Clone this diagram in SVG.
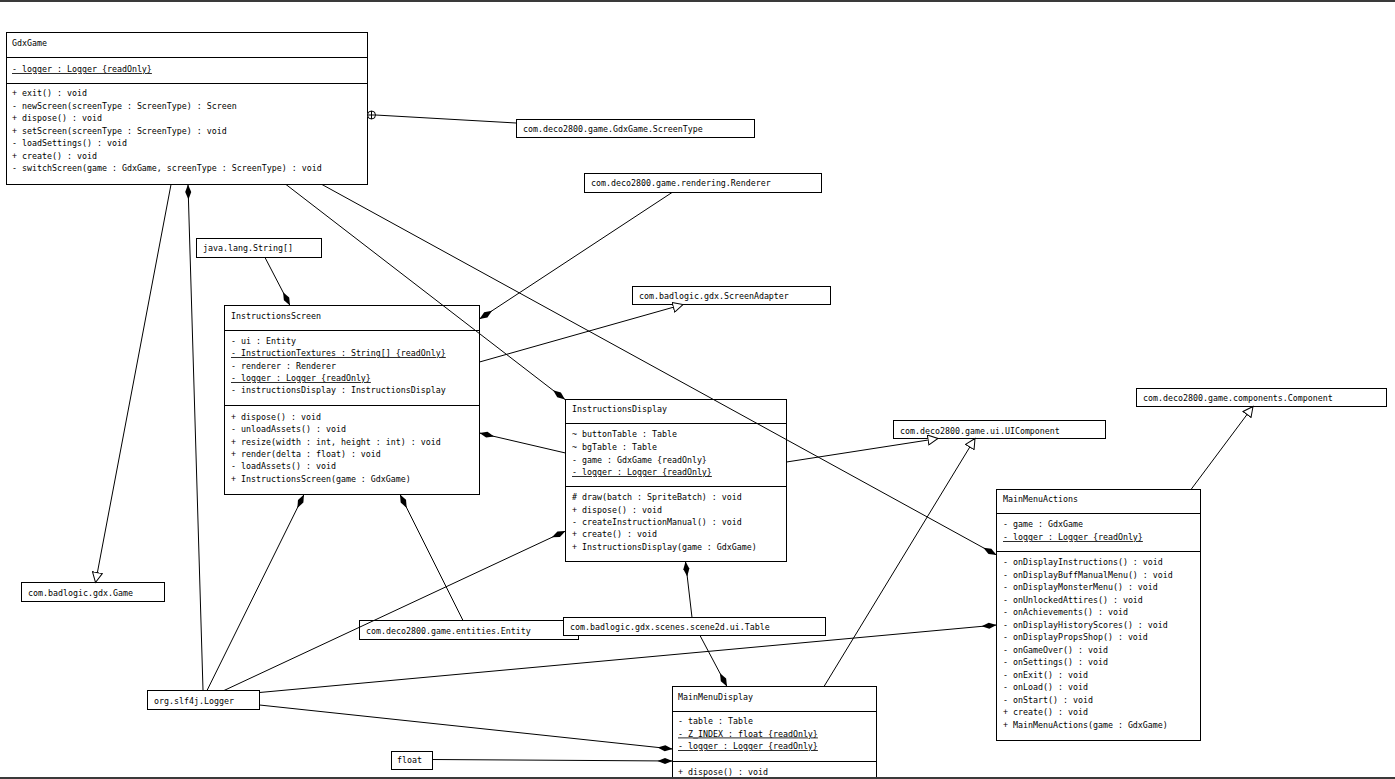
<svg xmlns="http://www.w3.org/2000/svg" width="1395" height="779" viewBox="0 0 1395 779">
<style>
text{font-family:"DejaVu Sans Mono","Liberation Mono",monospace;font-size:8.3px;fill:#000}
.box{fill:#fff;stroke:#000;stroke-width:1}
.sep{stroke:#000;stroke-width:1}
.u{text-decoration:underline}
.c{stroke:#000;stroke-width:1;fill:none}
.d{marker-end:url(#dia)}
.t{marker-end:url(#tri)}
</style>
<defs>
<marker id="dia" markerUnits="userSpaceOnUse" viewBox="0 0 16 8" markerWidth="16" markerHeight="8" refX="15" refY="4" orient="auto"><path d="M0,4 L7.5,1 L15,4 L7.5,7 Z" fill="#000"/></marker>
<marker id="tri" markerUnits="userSpaceOnUse" viewBox="0 0 12 11" markerWidth="12" markerHeight="11" refX="10.5" refY="5.5" orient="auto"><path d="M0.5,0.5 L10.5,5.5 L0.5,10.5 Z" fill="#fff" stroke="#000"/></marker>
</defs>
<rect x="0" y="0" width="1395" height="779" fill="#fff"/>
<rect x="0" y="0" width="1395" height="2" fill="#3a3a3a"/>

<g id="GdxGame">
<rect class="box" x="6.5" y="32.5" width="361" height="152"/>
<line class="sep" x1="6.5" y1="57.5" x2="367.5" y2="57.5"/>
<line class="sep" x1="6.5" y1="83.5" x2="367.5" y2="83.5"/>
<text x="12" y="46">GdxGame</text>
<text x="12" y="72" class="u">- logger : Logger {readOnly}</text>
<text x="12" y="96">+ exit() : void</text>
<text x="12" y="109">- newScreen(screenType : ScreenType) : Screen</text>
<text x="12" y="121">+ dispose() : void</text>
<text x="12" y="134">+ setScreen(screenType : ScreenType) : void</text>
<text x="12" y="146">- loadSettings() : void</text>
<text x="12" y="159">+ create() : void</text>
<text x="12" y="171">- switchScreen(game : GdxGame, screenType : ScreenType) : void</text>
</g>

<g id="ScreenType">
<rect class="box" x="516.5" y="119.5" width="238" height="18"/>
<text x="523" y="132">com.deco2800.game.GdxGame.ScreenType</text>
</g>

<g id="Renderer">
<rect class="box" x="584.5" y="173.5" width="237" height="19"/>
<text x="591" y="186">com.deco2800.game.rendering.Renderer</text>
</g>

<g id="StringArray">
<rect class="box" x="196.5" y="238.5" width="125" height="19"/>
<text x="203" y="251">java.lang.String[]</text>
</g>

<g id="ScreenAdapter">
<rect class="box" x="632.5" y="286.5" width="198" height="18"/>
<text x="639" y="299">com.badlogic.gdx.ScreenAdapter</text>
</g>

<g id="InstructionsScreen">
<rect class="box" x="224.5" y="305.5" width="255" height="189"/>
<line class="sep" x1="224.5" y1="330.5" x2="479.5" y2="330.5"/>
<line class="sep" x1="224.5" y1="405.5" x2="479.5" y2="405.5"/>
<text x="231" y="319">InstructionsScreen</text>
<text x="231" y="344">- ui : Entity</text>
<text x="231" y="356" class="u">- InstructionTextures : String[] {readOnly}</text>
<text x="231" y="368.5">- renderer : Renderer</text>
<text x="231" y="381" class="u">- logger : Logger {readOnly}</text>
<text x="231" y="393">- instructionsDisplay : InstructionsDisplay</text>
<text x="231" y="420">+ dispose() : void</text>
<text x="231" y="432">- unloadAssets() : void</text>
<text x="231" y="444.5">+ resize(width : int, height : int) : void</text>
<text x="231" y="457">+ render(delta : float) : void</text>
<text x="231" y="469">- loadAssets() : void</text>
<text x="231" y="481.5">+ InstructionsScreen(game : GdxGame)</text>
</g>

<g id="InstructionsDisplay">
<rect class="box" x="565.5" y="399.5" width="221" height="162"/>
<line class="sep" x1="565.5" y1="423.5" x2="786.5" y2="423.5"/>
<line class="sep" x1="565.5" y1="486.5" x2="786.5" y2="486.5"/>
<text x="572" y="412">InstructionsDisplay</text>
<text x="572" y="437">~ buttonTable : Table</text>
<text x="572" y="450">~ bgTable : Table</text>
<text x="572" y="462.5">- game : GdxGame {readOnly}</text>
<text x="572" y="475" class="u">- logger : Logger {readOnly}</text>
<text x="572" y="500"># draw(batch : SpriteBatch) : void</text>
<text x="572" y="512.5">+ dispose() : void</text>
<text x="572" y="525">- createInstructionManual() : void</text>
<text x="572" y="537">+ create() : void</text>
<text x="572" y="550">+ InstructionsDisplay(game : GdxGame)</text>
</g>

<g id="UIComponent">
<rect class="box" x="893.5" y="420.5" width="212" height="18"/>
<text x="900" y="434">com.deco2800.game.ui.UIComponent</text>
</g>

<g id="Component">
<rect class="box" x="1136.5" y="388.5" width="250" height="18"/>
<text x="1143" y="401">com.deco2800.game.components.Component</text>
</g>

<g id="MainMenuActions">
<rect class="box" x="996.5" y="489.5" width="204" height="251"/>
<line class="sep" x1="996.5" y1="513.5" x2="1200.5" y2="513.5"/>
<line class="sep" x1="996.5" y1="551.5" x2="1200.5" y2="551.5"/>
<text x="1003" y="502">MainMenuActions</text>
<text x="1003" y="527">- game : GdxGame</text>
<text x="1003" y="540" class="u">- logger : Logger {readOnly}</text>
<text x="1003" y="565">- onDisplayInstructions() : void</text>
<text x="1003" y="577.5">- onDisplayBuffManualMenu() : void</text>
<text x="1003" y="590">- onDisplayMonsterMenu() : void</text>
<text x="1003" y="602.5">- onUnlockedAttires() : void</text>
<text x="1003" y="615">- onAchievements() : void</text>
<text x="1003" y="627.5">- onDisplayHistoryScores() : void</text>
<text x="1003" y="640">- onDisplayPropsShop() : void</text>
<text x="1003" y="652.5">- onGameOver() : void</text>
<text x="1003" y="665">- onSettings() : void</text>
<text x="1003" y="677.5">- onExit() : void</text>
<text x="1003" y="690">- onLoad() : void</text>
<text x="1003" y="702.5">- onStart() : void</text>
<text x="1003" y="715">+ create() : void</text>
<text x="1003" y="727.5">+ MainMenuActions(game : GdxGame)</text>
</g>

<g id="Game">
<rect class="box" x="21.5" y="582.5" width="143" height="19"/>
<text x="28" y="596">com.badlogic.gdx.Game</text>
</g>

<g id="Logger">
<rect class="box" x="147.5" y="690.5" width="112" height="19"/>
<text x="154" y="703.5">org.slf4j.Logger</text>
</g>

<g id="Entity">
<rect class="box" x="359.5" y="620.5" width="219" height="19"/>
<text x="366" y="634">com.deco2800.game.entities.Entity</text>
</g>

<g id="Table">
<rect class="box" x="563.5" y="617.5" width="262" height="18"/>
<text x="570" y="630">com.badlogic.gdx.scenes.scene2d.ui.Table</text>
</g>

<g id="MainMenuDisplay">
<rect class="box" x="672.5" y="686.5" width="204" height="100"/>
<line class="sep" x1="672.5" y1="711.5" x2="876.5" y2="711.5"/>
<line class="sep" x1="672.5" y1="761.5" x2="876.5" y2="761.5"/>
<text x="678" y="700">MainMenuDisplay</text>
<text x="678" y="724">- table : Table</text>
<text x="678" y="736.5" class="u">- Z_INDEX : float {readOnly}</text>
<text x="678" y="749" class="u">- logger : Logger {readOnly}</text>
<text x="678" y="775">+ dispose() : void</text>
</g>

<g id="float">
<rect class="box" x="391.5" y="751.5" width="41" height="18"/>
<text x="397" y="763">float</text>
</g>

<g id="connectors">
<line class="c" x1="375.5" y1="115" x2="516" y2="123"/>
<circle cx="371.5" cy="115" r="4" fill="#fff" stroke="#000"/>
<line class="c" x1="371.5" y1="111" x2="371.5" y2="119"/>
<line class="c" x1="367.5" y1="115" x2="375.5" y2="115"/>
<line class="c t" x1="171" y1="184.5" x2="95.5" y2="582.5"/>
<line class="c d" x1="203" y1="690" x2="188" y2="184.5"/>
<line class="c d" x1="286" y1="184.5" x2="565" y2="399.5"/>
<line class="c d" x1="322" y1="184.5" x2="996.5" y2="555"/>
<line class="c d" x1="265" y1="257.5" x2="290" y2="305.5"/>
<line class="c d" x1="672" y1="192.5" x2="479.5" y2="319"/>
<line class="c t" x1="479.5" y1="362" x2="683" y2="304.5"/>
<line class="c d" x1="565.5" y1="453" x2="479.5" y2="433"/>
<line class="c t" x1="786.5" y1="462" x2="938" y2="438.5"/>
<line class="c t" x1="824" y1="686.5" x2="975" y2="438.5"/>
<line class="c t" x1="1191" y1="489.5" x2="1253" y2="406.5"/>
<line class="c d" x1="207" y1="690.5" x2="304" y2="494.5"/>
<line class="c d" x1="463" y1="620.5" x2="400" y2="494.5"/>
<line class="c d" x1="224" y1="690.5" x2="565.5" y2="531"/>
<line class="c d" x1="692" y1="617.5" x2="685.5" y2="561.5"/>
<line class="c d" x1="700" y1="635.5" x2="727" y2="686.5"/>
<line class="c d" x1="259.5" y1="692.5" x2="996.5" y2="625"/>
<line class="c d" x1="259.5" y1="705" x2="672.5" y2="749"/>
<line class="c d" x1="432" y1="759.5" x2="672.5" y2="761"/>
</g>

<rect x="0" y="777" width="1395" height="2" fill="#3a3a3a"/>
</svg>
